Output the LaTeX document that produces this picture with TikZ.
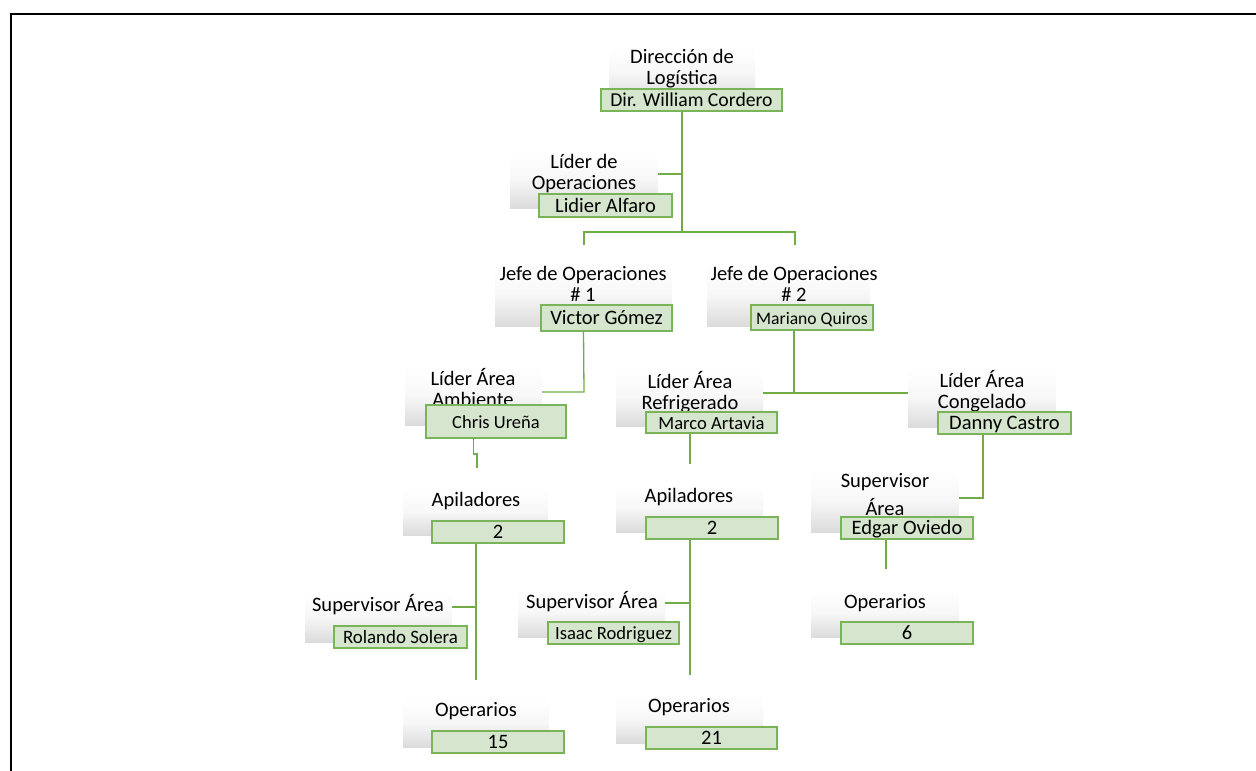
\documentclass[tikz,border=0pt]{standalone}
\usepackage{fontspec}
\setmainfont{Carlito}
\usetikzlibrary{fit}
\definecolor{boxfill}{RGB}{214,229,205}
\definecolor{boxline}{RGB}{122,180,88}
\definecolor{linkgreen}{RGB}{112,173,71}
\newcommand\orgsize[1]{\fontsize{#1}{21}\selectfont}

\begin{document}
\begin{tikzpicture}[x=1pt,y=-1pt,
  titlebg/.style={rectangle, inner sep=0pt, draw=none,
    top color=white, bottom color=black!14, middle color=black!3},
  titletext/.style={inner sep=0pt, align=center, font=\orgsize{20.5},
    execute at begin node=\strut, execute at end node=\strut},
  namebox/.style={rectangle, inner sep=0pt, draw=boxline, fill=boxfill,
    line width=1.4pt, font=\orgsize{20.5}, text height=16pt, text depth=3pt},
  size/.style 2 args={minimum width=#1pt, minimum height=#2pt},
  link/.style={draw=linkgreen, line width=1.3pt}]

\useasboundingbox (0,0) rectangle (1256,771);

% page frame (top and left edges)
\draw[line width=2pt] (11,771) -- (11,14) -- (1256,14);

% shaded title panels
\node[titlebg, fit={(609,46)(755,100)}]   (gDir)  {};
\node[titlebg, fit={(510,150)(658,208)}]  (gLid)  {};
\node[titlebg, fit={(495,262)(672,326)}]  (gJ1)   {};
\node[titlebg, fit={(707,262)(870,326)}]  (gJ2)   {};
\node[titlebg, fit={(405,367)(542,425)}]  (gAmb)  {};
\node[titlebg, fit={(616,368)(763,426)}]  (gRef)  {};
\node[titlebg, fit={(908,368)(1056,427)}] (gCon)  {};
\node[titlebg, fit={(403,488)(548,535)}]  (gAp1)  {};
\node[titlebg, fit={(305,592)(452,642)}]  (gSupR) {};
\node[titlebg, fit={(403,698)(549,747)}]  (gOp15) {};
\node[titlebg, fit={(616,483)(763,532)}]  (gAp2)  {};
\node[titlebg, fit={(518,588)(665,637)}]  (gSupI) {};
\node[titlebg, fit={(616,694)(763,743)}]  (gOp21) {};
\node[titlebg, fit={(811,469)(959,532)}]  (gSupE) {};
\node[titlebg, fit={(811,589)(959,637)}]  (gOp6)  {};

% position titles
\node[titletext] (tDir)  at (682,70.5)  {Dirección de\\Logística};
\node[titletext] (tLid)  at (584,175)   {Líder de\\Operaciones};
\node[titletext] (tJ1)   at (583,287.5) {Jefe de Operaciones\\\# 1};
\node[titletext] (tJ2)   at (794,287.5) {Jefe de Operaciones\\\# 2};
\node[titletext] (tAmb)  at (473,391)   {Líder Área\\Ambiente};
\node[titletext] (tRef)  at (690,393.5) {Líder Área\\Refrigerado};
\node[titletext] (tCon)  at (982,393)   {Líder Área\\Congelado};
\node[titletext] (tAp1)  at (476,502.5) {Apiladores};
\node[titletext] (tSupR) at (378,606)   {Supervisor Área};
\node[titletext] (tOp15) at (476,712.5) {Operarios};
\node[titletext] (tAp2)  at (689,498)   {Apiladores};
\node[titletext] (tSupI) at (592,603)   {Supervisor Área};
\node[titletext] (tOp21) at (689,708.5) {Operarios};
\node[titletext, font=\fontsize{20.5}{28}\selectfont] (tSupE) at (885,498.5) {Supervisor\\Área};
\node[titletext] (tOp6)  at (885,604)   {Operarios};

% connector junctions and free ends
\coordinate (jTop)  at (682,232);
\coordinate (jL)    at (584,232);
\coordinate (jR)    at (795,232);
\coordinate (eL)    at (584,245);
\coordinate (eR)    at (795,245);
\coordinate (jLid)  at (682,174);
\coordinate (jAmb)  at (584,392);
\coordinate (jJ2)   at (794,393);
\coordinate (eAmb)  at (477,468);
\coordinate (eRef)  at (690,464);
\coordinate (eAp1)  at (476,680);
\coordinate (jSupR) at (476,607);
\coordinate (eAp2)  at (690,675);
\coordinate (jSupI) at (690,603);
\coordinate (jSupE) at (983,498);
\coordinate (eSupE) at (886,569);

% connectors
\draw[link] (gDir.south |- 0,111) -- (jTop);
\draw[link] (eL) -- (jL) -- (jR) -- (eR);
\draw[link] (jLid) -- (jLid -| gLid.east);
\draw[link] (gJ1.south |- 0,331) -- (jAmb) -- (jAmb -| gAmb.east);
\draw[link] (tJ2.south |- 0,330) -- (jJ2);
\draw[link] (jJ2 -| gRef.east) -- (jJ2 -| gCon.west);
\draw[link] (gAmb.south |- 0,438) -- ++(0,16) -| (eAmb);
\draw[link] (eRef |- 0,433) -- (eRef);
\draw[link] (eAp1 |- 0,543) -- (eAp1);
\draw[link] (jSupR -| gSupR.east) -- (jSupR);
\draw[link] (eAp2 |- 0,539) -- (eAp2);
\draw[link] (jSupI -| gSupI.east) -- (jSupI);
\draw[link] (jSupE |- 0,434) -- (jSupE) -- (jSupE -| gSupE.east);
\draw[link] (eSupE |- 0,539) -- (eSupE);

% name boxes
\node[namebox, size={181}{22}, font=\orgsize{19.7}] (nDir)  at (691.5,100)  {Dir. William Cordero};
\node[namebox, size={133}{23}]                      (nLid)  at (605.5,205.5) {Lidier Alfaro};
\node[namebox, size={131}{26}]                      (nJ1)   at (606.5,318)  {Victor Gómez};
\node[namebox, size={122}{25}, font=\orgsize{17.6}] (nJ2)   at (812,317.5)  {Mariano Quiros};
\node[namebox, size={140}{33}, font=\orgsize{18.5}] (nAmb)  at (496,421.5)  {Chris Ureña};
\node[namebox, size={131}{21}, font=\orgsize{18.6}] (nRef)  at (711.5,422.5) {Marco Artavia};
\node[namebox, size={133}{22}]                      (nCon)  at (1004.5,423) {Danny Castro};
\node[namebox, size={132}{22}]                      (nAp1)  at (498,532)    {2};
\node[namebox, size={133}{22}, font=\orgsize{18.9}] (nSupR) at (400.5,637)  {Rolando Solera};
\node[namebox, size={132}{22}]                      (nOp15) at (498,742)    {15};
\node[namebox, size={132}{22}]                      (nAp2)  at (712,528)    {2};
\node[namebox, size={131}{22}, font=\orgsize{18.6}] (nSupI) at (613.5,633)  {Isaac Rodriguez};
\node[namebox, size={131}{22}]                      (nOp21) at (711.5,738)  {21};
\node[namebox, size={132}{22}]                      (nSupE) at (907,528)    {Edgar Oviedo};
\node[namebox, size={132}{22}]                      (nOp6)  at (907,633)    {6};
\end{tikzpicture}
\end{document}
